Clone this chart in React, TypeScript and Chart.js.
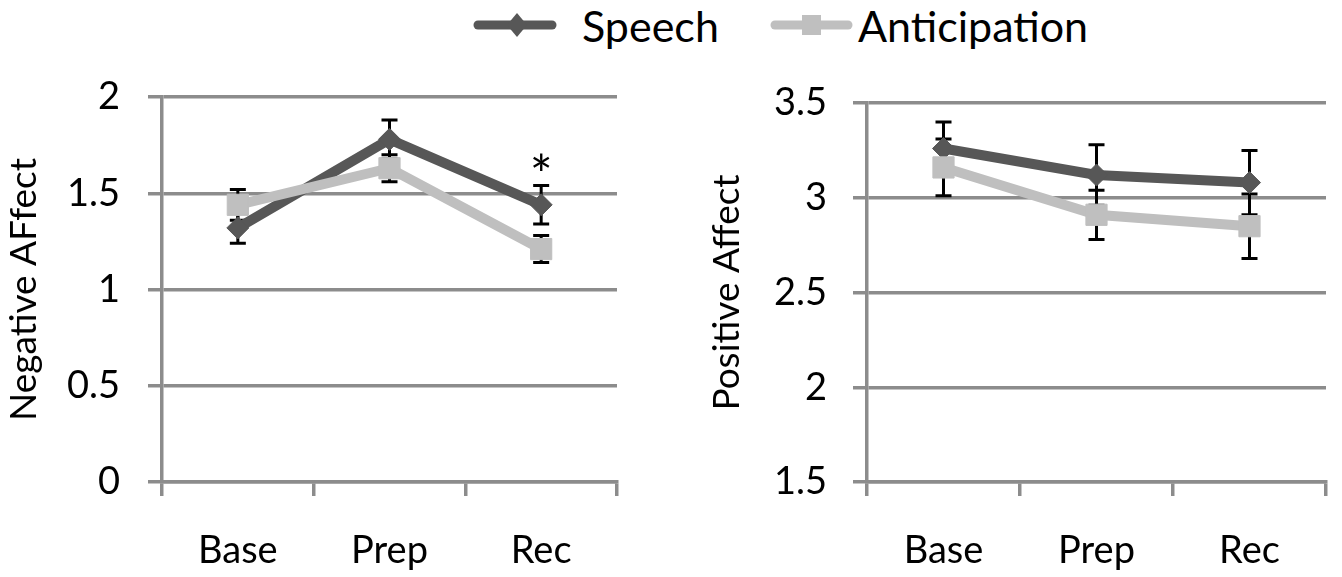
import React, { useEffect, useRef } from 'react';
import { Chart, registerables } from 'chart.js';

Chart.register(...registerables);

// ---------- data ----------
const categories = ['Base', 'Prep', 'Rec'];
const seriesNames = ['Speech', 'Anticipation'];

const negSpeech = [1.32, 1.78, 1.44];
const negSpeechErr = [0.08, 0.1, 0.1];
const negAnticipation = [1.44, 1.63, 1.21];
const negAnticipationErr = [0.08, 0.07, 0.07];
const negMarks = ['', '', '*'];
const negMarkValues = [0, 0, 1.66];
const negRange = [0, 2];
const negStep = 0.5;
const negTitle = 'Negative AFfect';

const posSpeech = [3.26, 3.12, 3.08];
const posSpeechErr = [0.14, 0.16, 0.17];
const posAnticipation = [3.16, 2.91, 2.85];
const posAnticipationErr = [0.15, 0.13, 0.17];
const posMarks = ['', '', ''];
const posMarkValues = [0, 0, 0];
const posRange = [1.5, 3.5];
const posStep = 0.5;
const posTitle = 'Positive Affect';

// ---------- styles ----------
const FONT = 'Lato, "Open Sans", sans-serif';
const DARK = '#575757';
const LIGHT = '#bfbfbf';
const GRID = '#8c8c8c';
const TICK_SIZE = 38;
const TITLE_SIZE = 37;

const errorBarPlugin = {
  id: 'errorBars',
  beforeDatasetsDraw(chart: any, _args: any, opts: any) {
    const ctx = chart.ctx;
    const yScale = chart.scales.y;
    ctx.save();
    ctx.strokeStyle = '#000';
    ctx.lineWidth = 3;
    chart.data.datasets.forEach((ds: any, i: number) => {
      const meta = chart.getDatasetMeta(i);
      const errs = opts.errors[i];
      meta.data.forEach((pt: any, j: number) => {
        const v = ds.data[j];
        const e = errs[j];
        const yt = yScale.getPixelForValue(v + e);
        const yb = yScale.getPixelForValue(v - e);
        const x = pt.x;
        ctx.beginPath();
        ctx.moveTo(x, yt);
        ctx.lineTo(x, yb);
        ctx.moveTo(x - 8, yt);
        ctx.lineTo(x + 8, yt);
        ctx.moveTo(x - 8, yb);
        ctx.lineTo(x + 8, yb);
        ctx.stroke();
      });
    });
    ctx.restore();
  },
  afterDatasetsDraw(chart: any, _args: any, opts: any) {
    const ctx = chart.ctx;
    const yScale = chart.scales.y;
    const xScale = chart.scales.x;
    ctx.save();
    ctx.fillStyle = '#000';
    ctx.font = `54px ${FONT}`;
    ctx.textAlign = 'center';
    ctx.textBaseline = 'alphabetic';
    (opts.marks || []).forEach((m: string, j: number) => {
      if (!m) return;
      const x = xScale.getPixelForValue(j);
      const cy = yScale.getPixelForValue(opts.markValues[j]);
      const mt = ctx.measureText(m);
      const by = cy + (mt.actualBoundingBoxAscent - mt.actualBoundingBoxDescent) / 2;
      ctx.fillText(m, x, by);
    });
    ctx.restore();
  },
};

function makeConfig(
  speech: number[],
  anticip: number[],
  speechErr: number[],
  anticErr: number[],
  range: number[],
  step: number,
  title: string,
  marks: string[],
  markValues: number[],
  geom: { top: number; right: number; yWidth: number; xHeight: number; titlePad: number; tickPad: number }
): any {
  return {
    type: 'line',
    data: {
      labels: categories,
      datasets: [
        {
          label: seriesNames[0],
          data: speech,
          borderColor: DARK,
          backgroundColor: DARK,
          borderWidth: 10,
          pointStyle: 'rectRot',
          pointRadius: 11,
          pointBorderWidth: 1,
          pointBackgroundColor: DARK,
          pointBorderColor: DARK,
          order: 1,
          tension: 0,
        },
        {
          label: seriesNames[1],
          data: anticip,
          borderColor: LIGHT,
          backgroundColor: LIGHT,
          borderWidth: 10,
          pointStyle: 'rect',
          pointRadius: 15,
          pointBorderWidth: 1,
          pointBackgroundColor: LIGHT,
          pointBorderColor: LIGHT,
          order: 0,
          tension: 0,
        },
      ],
    },
    options: {
      responsive: true,
      maintainAspectRatio: false,
      animation: false,
      layout: { padding: { top: geom.top, right: geom.right, left: 0, bottom: 0 } },
      plugins: {
        legend: { display: false },
        tooltip: { enabled: false },
        errorBars: { errors: [speechErr, anticErr], marks, markValues },
      },
      scales: {
        x: {
          type: 'category',
          offset: true,
          grid: {
            display: true,
            offset: true,
            drawOnChartArea: false,
            drawTicks: true,
            tickLength: 14,
            color: GRID,
            lineWidth: 3.5,
          },
          border: { display: true, color: GRID, width: 3.5 },
          ticks: {
            color: '#000',
            font: { family: FONT, size: TICK_SIZE },
            padding: 32,
            maxRotation: 0,
            autoSkip: false,
          },
          afterFit: (s: any) => {
            s.height = geom.xHeight;
          },
        },
        y: {
          min: range[0],
          max: range[1],
          ticks: {
            stepSize: step,
            color: '#000',
            font: { family: FONT, size: TICK_SIZE },
            padding: geom.tickPad,
            callback: (v: any) => String(Number(v)),
          },
          grid: {
            color: GRID,
            lineWidth: 3.5,
            drawTicks: true,
            tickLength: 14,
          },
          border: { display: true, color: GRID, width: 3.5 },
          title: {
            display: true,
            text: title,
            color: '#000',
            font: { family: FONT, size: TITLE_SIZE },
            padding: { top: geom.titlePad, bottom: 0 },
          },
          afterFit: (s: any) => {
            s.width = geom.yWidth;
          },
        },
      },
    },
    plugins: [errorBarPlugin],
  };
}

function ChartBox(props: { config: any; style: React.CSSProperties }) {
  const ref = useRef<HTMLCanvasElement | null>(null);
  useEffect(() => {
    if (!ref.current) return;
    const chart = new Chart(ref.current, props.config);
    return () => chart.destroy();
  }, []);
  return (
    <div style={{ position: 'absolute', ...props.style }}>
      <canvas ref={ref} />
    </div>
  );
}

const legendText: React.CSSProperties = {
  position: 'absolute',
  fontFamily: FONT,
  fontSize: 43,
  lineHeight: '50px',
  color: '#000',
  whiteSpace: 'nowrap',
  top: 1,
};

export default function App() {
  const left = makeConfig(
    negSpeech,
    negAnticipation,
    negSpeechErr,
    negAnticipationErr,
    negRange,
    negStep,
    negTitle,
    negMarks,
    negMarkValues,
    { top: 97, right: 23, yWidth: 162, xHeight: 95, titlePad: 2, tickPad: 28 }
  );
  const right = makeConfig(
    posSpeech,
    posAnticipation,
    posSpeechErr,
    posAnticipationErr,
    posRange,
    posStep,
    posTitle,
    posMarks,
    posMarkValues,
    { top: 103, right: 15, yWidth: 177, xHeight: 95, titlePad: 15, tickPad: 26 }
  );
  return (
    <div
      style={{
        position: 'absolute',
        left: 0,
        top: 0,
        width: 1342,
        height: 577,
        background: '#fff',
        overflow: 'hidden',
      }}
    >
      <svg width={1342} height={60} style={{ position: 'absolute', left: 0, top: 0 }}>
        <line x1={478} y1={25} x2={552} y2={25} stroke={DARK} strokeWidth={9} strokeLinecap="round" />
        <polygon points="517,13 527,25 517,37 507,25" fill={DARK} />
        <line x1={775} y1={25} x2={848} y2={25} stroke={LIGHT} strokeWidth={9} strokeLinecap="round" />
        <rect x={802} y={15} width={19} height={20} fill={LIGHT} />
      </svg>
      <div style={{ ...legendText, left: 582 }}>{seriesNames[0]}</div>
      <div style={{ ...legendText, left: 858 }}>{seriesNames[1]}</div>
      <ChartBox config={left} style={{ left: 0, top: 0, width: 640, height: 577 }} />
      <ChartBox config={right} style={{ left: 690, top: 0, width: 652, height: 577 }} />
    </div>
  );
}
